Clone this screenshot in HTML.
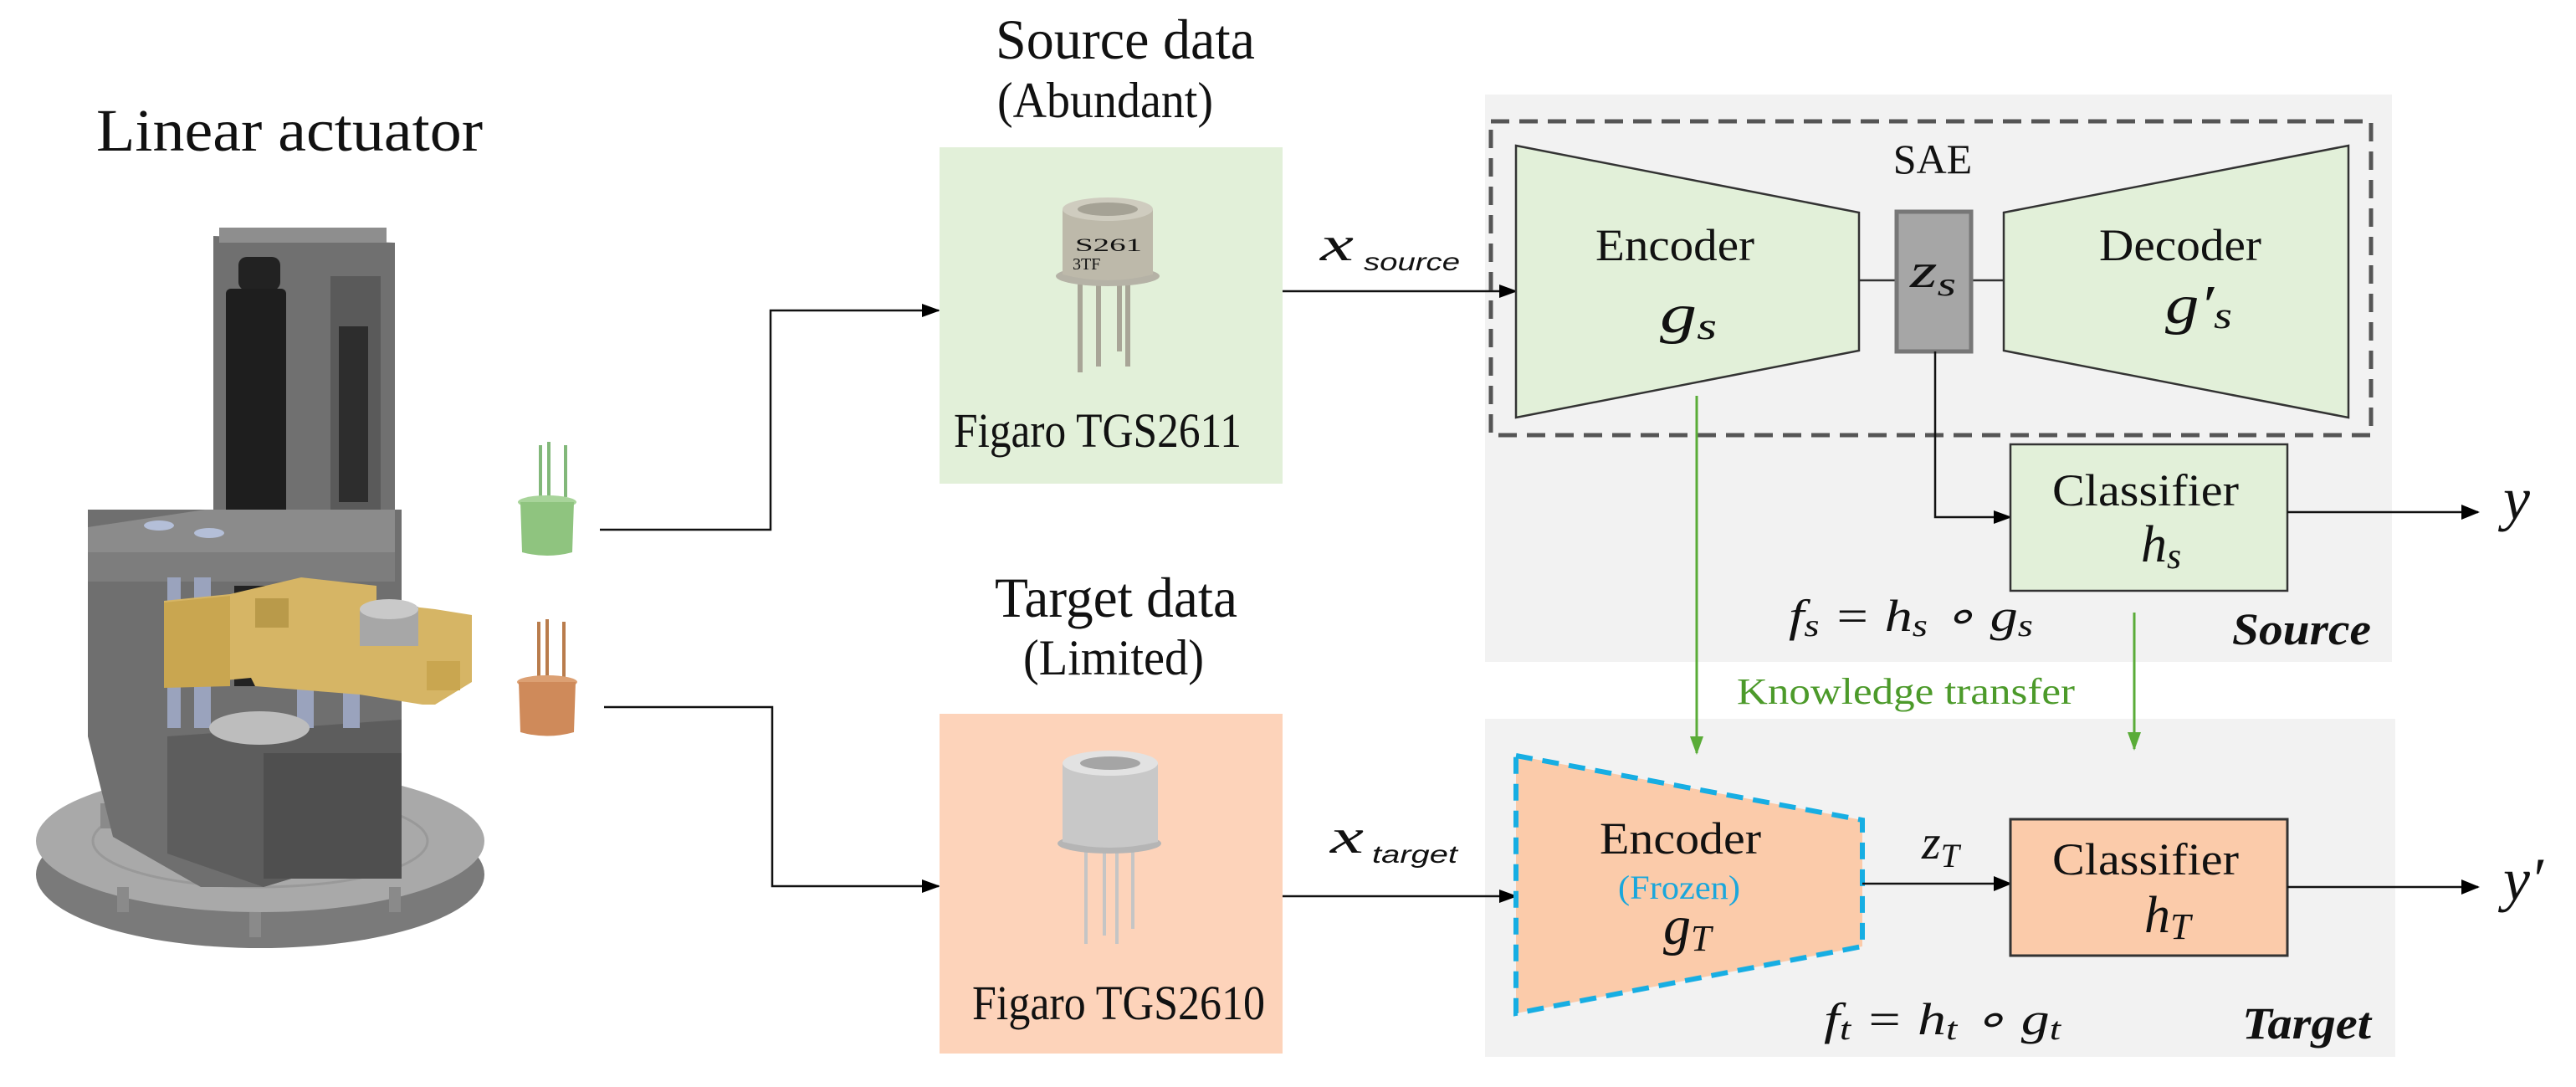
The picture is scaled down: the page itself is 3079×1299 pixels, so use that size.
<!DOCTYPE html>
<html><head><meta charset="utf-8"><style>
html,body{margin:0;padding:0;background:#fff;width:3079px;height:1299px;overflow:hidden}
svg{display:block}
text{font-family:"Liberation Serif",serif;fill:#111}
.it{font-style:italic}
</style></head><body>
<svg width="3079" height="1299" viewBox="0 0 3079 1299" xmlns="http://www.w3.org/2000/svg">
<defs>
<marker id="ah" markerWidth="22" markerHeight="22" refX="20" refY="11" orient="auto" markerUnits="userSpaceOnUse"><path d="M0,3 L22,11 L0,19 z" fill="#000"/></marker>
<marker id="ak" markerWidth="22" markerHeight="22" refX="20" refY="11" orient="auto" markerUnits="userSpaceOnUse"><path d="M0,2 L22,11 L0,20 z" fill="#000"/></marker>
<marker id="ag" markerWidth="22" markerHeight="22" refX="20" refY="11" orient="auto" markerUnits="userSpaceOnUse"><path d="M0,3 L22,11 L0,19 z" fill="#5aac38"/></marker>
</defs>

<text x="115" y="180" font-size="72" textLength="462" lengthAdjust="spacingAndGlyphs">Linear actuator</text>

<g>
 <ellipse cx="311" cy="1045" rx="268" ry="88" fill="#7a7a7a"/>
 <ellipse cx="311" cy="1005" rx="268" ry="85" fill="#a9a9a9"/>
 <ellipse cx="311" cy="1005" rx="200" ry="55" fill="none" stroke="#999" stroke-width="3"/>
 <rect x="120" y="960" width="14" height="30" fill="#8a8a8a"/>
 <rect x="140" y="1060" width="14" height="30" fill="#8a8a8a"/>
 <rect x="298" y="1090" width="14" height="30" fill="#8a8a8a"/>
 <rect x="465" y="1060" width="14" height="30" fill="#8a8a8a"/>
 <polygon points="105,609 480,609 480,1010 315,1060 240,1060 135,1000 105,880" fill="#6f6f6f"/>
 <polygon points="200,880 480,860 480,1010 315,1060 200,1020" fill="#5d5d5d"/>
 <rect x="315" y="900" width="165" height="150" fill="#4f4f4f"/>
 <polygon points="255,282 472,290 472,640 255,640" fill="#707070"/>
 <rect x="262" y="272" width="200" height="18" fill="#8e8e8e"/>
 <rect x="395" y="330" width="60" height="280" fill="#5a5a5a"/>
 <rect x="405" y="390" width="35" height="210" fill="#2d2d2d"/>
 <rect x="285" y="307" width="50" height="40" rx="10" fill="#222"/>
 <rect x="270" y="345" width="72" height="275" rx="6" fill="#1e1e1e"/>
 <polygon points="105,630 245,609 472,609 472,681 105,681" fill="#8b8b8b"/>
 <rect x="105" y="660" width="367" height="35" fill="#7d7d7d"/>
 <ellipse cx="190" cy="628" rx="18" ry="6" fill="#b4bfd8"/>
 <ellipse cx="250" cy="637" rx="18" ry="6" fill="#b4bfd8"/>
 <rect x="200" y="690" width="16" height="180" fill="#9aa3bd"/>
 <rect x="232" y="690" width="20" height="180" fill="#9aa3bd"/>
 <rect x="355" y="780" width="20" height="90" fill="#9aa3bd"/>
 <rect x="410" y="780" width="20" height="90" fill="#9aa3bd"/>
 <ellipse cx="310" cy="870" rx="60" ry="20" fill="#bdbdbd"/>
 <rect x="280" y="700" width="60" height="120" fill="#222"/>
 <polygon points="196,718 275,710 360,690 450,700 450,720 520,728 564,735 564,815 520,842 505,842 430,830 305,820 300,810 196,820" fill="#d6b565"/>
 <polygon points="196,720 275,712 275,820 196,822" fill="#c9a650"/>
 <rect x="305" y="715" width="40" height="35" fill="#b99a4a"/>
 <polygon points="430,730 500,725 500,772 430,772" fill="#a7a7a7"/>
 <ellipse cx="465" cy="728" rx="35" ry="12" fill="#c9c9c9"/>
 <rect x="510" y="790" width="40" height="35" fill="#c9a650"/>
</g>

<g>
 <rect x="644" y="532" width="4" height="62" fill="#82b87a"/>
 <rect x="654" y="528" width="4" height="68" fill="#82b87a"/>
 <rect x="674" y="532" width="4" height="62" fill="#82b87a"/>
 <ellipse cx="654" cy="600" rx="35" ry="8" fill="#a8d49a"/>
 <path d="M622,600 L686,600 L684,660 Q654,668 624,660 Z" fill="#8fc47f"/>
 <rect x="642" y="743" width="4" height="70" fill="#b97c4c"/>
 <rect x="652" y="740" width="4" height="75" fill="#b97c4c"/>
 <rect x="672" y="743" width="4" height="70" fill="#b97c4c"/>
 <ellipse cx="654" cy="815" rx="36" ry="8" fill="#dca073"/>
 <path d="M620,815 L688,815 L686,875 Q654,884 622,875 Z" fill="#cf8a5a"/>
</g>

<g fill="none" stroke="#111" stroke-width="2.5">
 <polyline points="717,633 921,633 921,371 1122,371" marker-end="url(#ah)"/>
 <polyline points="722,845 923,845 923,1059 1122,1059" marker-end="url(#ah)"/>
</g>

<text x="1190" y="70" font-size="68" textLength="310" lengthAdjust="spacingAndGlyphs">Source data</text>
<text x="1192" y="140" font-size="60" textLength="258" lengthAdjust="spacingAndGlyphs">(Abundant)</text>
<text x="1189" y="737" font-size="68" textLength="290" lengthAdjust="spacingAndGlyphs">Target data</text>
<text x="1223" y="806" font-size="60" textLength="216" lengthAdjust="spacingAndGlyphs">(Limited)</text>

<rect x="1123" y="176" width="410" height="402" fill="#e2f0d9"/>
<g>
 <rect x="1288" y="330" width="6" height="115" fill="#a8a597"/>
 <rect x="1310" y="330" width="6" height="108" fill="#a8a597"/>
 <rect x="1335" y="330" width="6" height="90" fill="#a8a597"/>
 <rect x="1345" y="330" width="6" height="108" fill="#a8a597"/>
 <ellipse cx="1324" cy="330" rx="62" ry="12" fill="#b5b2a6"/>
 <path d="M1270,250 L1378,250 L1378,328 Q1324,342 1270,328 Z" fill="#bdb9aa"/>
 <ellipse cx="1324" cy="250" rx="54" ry="14" fill="#cfccbf"/>
 <ellipse cx="1324" cy="250" rx="36" ry="8" fill="#a5a295"/>
 <text x="1285" y="300" font-size="22" fill="#444" textLength="80" lengthAdjust="spacingAndGlyphs">S261</text>
 <text x="1282" y="322" font-size="20" fill="#444">3TF</text>
</g>
<text x="1140" y="534" font-size="58" textLength="344" lengthAdjust="spacingAndGlyphs">Figaro TGS2611</text>

<rect x="1123" y="853" width="410" height="406" fill="#fdd3ba"/>
<g>
 <rect x="1296" y="1010" width="4" height="118" fill="#c5c5c5"/>
 <rect x="1318" y="1010" width="4" height="108" fill="#c5c5c5"/>
 <rect x="1333" y="1010" width="4" height="118" fill="#c5c5c5"/>
 <rect x="1352" y="1010" width="4" height="100" fill="#c5c5c5"/>
 <ellipse cx="1326" cy="1008" rx="62" ry="12" fill="#b5b5b5"/>
 <path d="M1270,912 L1384,912 L1384,1006 Q1326,1020 1270,1006 Z" fill="#c8c8c8"/>
 <ellipse cx="1327" cy="912" rx="57" ry="15" fill="#e2e2e2"/>
 <ellipse cx="1327" cy="912" rx="36" ry="8" fill="#a5a5a5"/>
</g>
<text x="1162" y="1218" font-size="58" textLength="350" lengthAdjust="spacingAndGlyphs">Figaro TGS2610</text>

<rect x="1775" y="113" width="1084" height="678" fill="#f2f2f2"/>
<rect x="1775" y="859" width="1088" height="404" fill="#f2f2f2"/>

<text x="1578" y="311" font-size="58" class="it" textLength="40" lengthAdjust="spacingAndGlyphs">x</text>
<text x="1630" y="323" font-size="30" class="it" style="font-family:'Liberation Sans',sans-serif" textLength="115" lengthAdjust="spacingAndGlyphs">source</text>
<line x1="1533" y1="348" x2="1812" y2="348" stroke="#111" stroke-width="2.5" marker-end="url(#ah)"/>
<text x="1590" y="1019" font-size="58" class="it" textLength="40" lengthAdjust="spacingAndGlyphs">x</text>
<text x="1640" y="1031" font-size="30" class="it" style="font-family:'Liberation Sans',sans-serif" textLength="102" lengthAdjust="spacingAndGlyphs">target</text>
<line x1="1533" y1="1071" x2="1812" y2="1071" stroke="#111" stroke-width="2.5" marker-end="url(#ah)"/>

<rect x="1782" y="145" width="1052" height="375" fill="none" stroke="#555" stroke-width="5" stroke-dasharray="22,12"/>
<text x="2310" y="207" font-size="50" text-anchor="middle">SAE</text>

<polygon points="1812,174 2222,254 2222,419 1812,499" fill="#e2f0d9" stroke="#333" stroke-width="2.5"/>
<text x="1907" y="311" font-size="54" textLength="190" lengthAdjust="spacingAndGlyphs">Encoder</text>
<text x="1984" y="397" font-size="66" class="it" textLength="68" lengthAdjust="spacingAndGlyphs">g<tspan font-size="46" dy="8">s</tspan></text>
<line x1="2222" y1="335" x2="2267" y2="335" stroke="#333" stroke-width="2.5"/>
<line x1="2356" y1="335" x2="2395" y2="335" stroke="#333" stroke-width="2.5"/>
<rect x="2267" y="253" width="89" height="167" fill="#a6a6a6" stroke="#777" stroke-width="5"/>
<text x="2283" y="343" font-size="58" class="it" textLength="55" lengthAdjust="spacingAndGlyphs">z<tspan font-size="40" dy="10">s</tspan></text>
<polygon points="2395,254 2807,174 2807,499 2395,419" fill="#e2f0d9" stroke="#333" stroke-width="2.5"/>
<text x="2509" y="311" font-size="54" textLength="194" lengthAdjust="spacingAndGlyphs">Decoder</text>
<text x="2588" y="386" font-size="66" class="it" textLength="80" lengthAdjust="spacingAndGlyphs">g′<tspan font-size="46" dy="6">s</tspan></text>

<polyline points="2313,420 2313,618 2403,618" fill="none" stroke="#111" stroke-width="2.5" marker-end="url(#ah)"/>
<rect x="2403" y="531" width="331" height="175" fill="#e2f0d9" stroke="#333" stroke-width="2.5"/>
<text x="2453" y="604" font-size="54" textLength="223" lengthAdjust="spacingAndGlyphs">Classifier</text>
<text x="2559" y="671" font-size="62" class="it">h<tspan font-size="44" dy="8">s</tspan></text>
<line x1="2734" y1="612" x2="2962" y2="612" stroke="#111" stroke-width="2.5" marker-end="url(#ak)"/>
<text x="2992" y="620" font-size="72" class="it">y</text>

<text x="2138" y="754" font-size="54" class="it" textLength="292" lengthAdjust="spacingAndGlyphs">f<tspan font-size="38" dy="6">s</tspan><tspan dy="-6"> = h</tspan><tspan font-size="38" dy="6">s</tspan><tspan dy="-6"> ∘ g</tspan><tspan font-size="38" dy="6">s</tspan></text>
<text x="2668" y="770" font-size="54" class="it" font-weight="bold" textLength="166" lengthAdjust="spacingAndGlyphs">Source</text>

<line x1="2028" y1="473" x2="2028" y2="900" stroke="#5aac38" stroke-width="3" marker-end="url(#ag)"/>
<line x1="2551" y1="732" x2="2551" y2="895" stroke="#5aac38" stroke-width="3" marker-end="url(#ag)"/>
<text x="2076" y="841" font-size="44" style="fill:#4c9a2a" textLength="404" lengthAdjust="spacingAndGlyphs">Knowledge transfer</text>

<polygon points="1812,903 2226,980 2226,1131 1812,1211" fill="#fbcbaa" stroke="#17aee3" stroke-width="6" stroke-dasharray="20,12"/>
<text x="1912" y="1020" font-size="54" textLength="193" lengthAdjust="spacingAndGlyphs">Encoder</text>
<text x="1934" y="1074" font-size="40" style="fill:#1aa7dc" textLength="146" lengthAdjust="spacingAndGlyphs">(Frozen)</text>
<text x="1988" y="1128" font-size="66" class="it">g<tspan font-size="44" dy="8">T</tspan></text>

<line x1="2226" y1="1056" x2="2403" y2="1056" stroke="#111" stroke-width="2.5" marker-end="url(#ak)"/>
<text x="2297" y="1026" font-size="58" class="it">z<tspan font-size="40" dy="10">T</tspan></text>

<rect x="2403" y="979" width="331" height="163" fill="#fbcbaa" stroke="#333" stroke-width="3"/>
<text x="2453" y="1045" font-size="54" textLength="223" lengthAdjust="spacingAndGlyphs">Classifier</text>
<text x="2563" y="1114" font-size="62" class="it">h<tspan font-size="44" dy="8">T</tspan></text>
<line x1="2734" y1="1060" x2="2962" y2="1060" stroke="#111" stroke-width="2.5" marker-end="url(#ak)"/>
<text x="2992" y="1075" font-size="72" class="it">y′</text>

<text x="2180" y="1236" font-size="54" class="it" textLength="283" lengthAdjust="spacingAndGlyphs">f<tspan font-size="38" dy="6">t</tspan><tspan dy="-6"> = h</tspan><tspan font-size="38" dy="6">t</tspan><tspan dy="-6"> ∘ g</tspan><tspan font-size="38" dy="6">t</tspan></text>
<text x="2680" y="1241" font-size="54" class="it" font-weight="bold" textLength="154" lengthAdjust="spacingAndGlyphs">Target</text>
</svg>
</body></html>
